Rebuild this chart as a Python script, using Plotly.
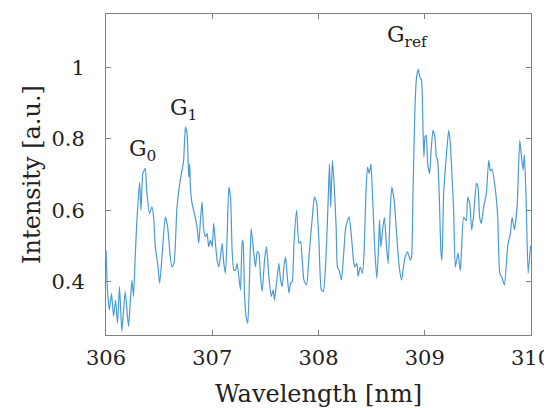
import plotly.graph_objects as go

# Spectrum
wavelength = [
    306.000, 306.014, 306.031, 306.052, 306.071, 306.090, 306.108, 306.127, 306.149, 306.165,
    306.181, 306.197, 306.212, 306.228, 306.244, 306.259, 306.275, 306.291, 306.316, 306.329,
    306.347, 306.369, 306.385, 306.410, 306.432, 306.448, 306.464, 306.486, 306.505, 306.527,
    306.558, 306.580, 306.605, 306.621, 306.640, 306.668, 306.694, 306.716, 306.731, 306.747,
    306.763, 306.779, 306.788, 306.794, 306.810, 306.832, 306.857, 306.873, 306.889, 306.904,
    306.920, 306.936, 306.951, 306.967, 306.983, 306.999, 307.014, 307.030, 307.046, 307.062,
    307.077, 307.093, 307.109, 307.124, 307.140, 307.156, 307.172, 307.187, 307.203, 307.219,
    307.234, 307.250, 307.266, 307.282, 307.291, 307.304, 307.320, 307.335, 307.366, 307.391,
    307.407, 307.423, 307.439, 307.454, 307.470, 307.492, 307.511, 307.533, 307.555, 307.574,
    307.586, 307.605, 307.627, 307.643, 307.659, 307.674, 307.690, 307.706, 307.722, 307.737,
    307.753, 307.769, 307.794, 307.816, 307.832, 307.847, 307.863, 307.888, 307.910, 307.926,
    307.942, 307.962, 307.983, 308.005, 308.027, 308.046, 308.068, 308.090, 308.103, 308.115,
    308.131, 308.147, 308.166, 308.178, 308.194, 308.216, 308.235, 308.257, 308.288, 308.310,
    308.329, 308.342, 308.361, 308.373, 308.392, 308.414, 308.430, 308.445, 308.461, 308.477,
    308.493, 308.508, 308.530, 308.549, 308.565, 308.574, 308.587, 308.603, 308.620, 308.640,
    308.656, 308.675, 308.690, 308.712, 308.737, 308.760, 308.782, 308.800, 308.816, 308.838,
    308.863, 308.876, 308.888, 308.907, 308.923, 308.939, 308.954, 308.970, 308.983, 308.992,
    309.002, 309.014, 309.027, 309.046, 309.058, 309.077, 309.096, 309.109, 309.121, 309.137,
    309.153, 309.162, 309.178, 309.200, 309.225, 309.241, 309.256, 309.272, 309.288, 309.313,
    309.335, 309.366, 309.391, 309.404, 309.423, 309.442, 309.461, 309.486, 309.501, 309.517,
    309.533, 309.555, 309.580, 309.602, 309.618, 309.633, 309.665, 309.687, 309.706, 309.728,
    309.750, 309.781, 309.806, 309.822, 309.844, 309.869, 309.894, 309.907, 309.926, 309.938,
    309.954, 309.973, 309.995,
]
intensity = [
    0.488, 0.376, 0.320, 0.367, 0.302, 0.348, 0.283, 0.386, 0.260, 0.320,
    0.372, 0.320, 0.274, 0.340, 0.404, 0.358, 0.470, 0.572, 0.679, 0.600,
    0.703, 0.717, 0.647, 0.591, 0.609, 0.581, 0.497, 0.451, 0.395, 0.469,
    0.581, 0.553, 0.469, 0.441, 0.450, 0.609, 0.675, 0.712, 0.740, 0.833,
    0.814, 0.693, 0.730, 0.665, 0.619, 0.591, 0.553, 0.507, 0.572, 0.623,
    0.544, 0.526, 0.535, 0.497, 0.516, 0.497, 0.563, 0.507, 0.460, 0.441,
    0.469, 0.507, 0.451, 0.423, 0.526, 0.665, 0.637, 0.488, 0.432, 0.432,
    0.451, 0.414, 0.376, 0.516, 0.507, 0.358, 0.300, 0.283, 0.549, 0.479,
    0.441, 0.484, 0.479, 0.414, 0.372, 0.460, 0.497, 0.414, 0.358, 0.376,
    0.348, 0.395, 0.451, 0.404, 0.386, 0.441, 0.469, 0.414, 0.367, 0.395,
    0.400, 0.507, 0.600, 0.507, 0.512, 0.460, 0.404, 0.390, 0.469, 0.525,
    0.581, 0.637, 0.619, 0.507, 0.376, 0.372, 0.451, 0.619, 0.730, 0.609,
    0.740, 0.675, 0.553, 0.441, 0.432, 0.404, 0.469, 0.553, 0.581, 0.526,
    0.460, 0.441, 0.451, 0.414, 0.441, 0.423, 0.488, 0.637, 0.721, 0.703,
    0.730, 0.647, 0.488, 0.409, 0.497, 0.572, 0.497, 0.544, 0.580, 0.500,
    0.450, 0.600, 0.665, 0.628, 0.525, 0.441, 0.404, 0.441, 0.469, 0.483,
    0.460, 0.469, 0.628, 0.880, 0.973, 0.995, 0.973, 0.964, 0.833, 0.749,
    0.805, 0.810, 0.731, 0.703, 0.758, 0.824, 0.805, 0.749, 0.740, 0.637,
    0.479, 0.460, 0.647, 0.740, 0.824, 0.786, 0.700, 0.600, 0.440, 0.480,
    0.430, 0.580, 0.570, 0.636, 0.620, 0.544, 0.590, 0.675, 0.665, 0.580,
    0.563, 0.610, 0.647, 0.740, 0.710, 0.715, 0.656, 0.580, 0.423, 0.410,
    0.390, 0.500, 0.535, 0.580, 0.545, 0.610, 0.796, 0.760, 0.712, 0.756,
    0.630, 0.423, 0.500,
]

# peak labels (text, x, y)
peak_labels = ["G<sub>0</sub>", "G<sub>1</sub>", "G<sub>ref</sub>"]
peak_x = [306.34, 306.73, 308.84]
peak_y = [0.722, 0.836, 1.04]

FONT = "DejaVu Serif"
TEXT = "#222222"
AXIS_GREY = "#808080"

fig = go.Figure()
fig.add_trace(go.Scatter(x=wavelength, y=intensity, mode="lines",
                         line=dict(color="#4a9ad4", width=1.2, shape="spline", smoothing=0.5),
                         showlegend=False))

for txt, px, py in zip(peak_labels, peak_x, peak_y):
    fig.add_annotation(x=px, y=py, text=txt, showarrow=False, xanchor="center", yanchor="bottom",
                       font=dict(family=FONT, size=22, color=TEXT))

axis_common = dict(showgrid=False, zeroline=False, showline=True, linecolor=AXIS_GREY, linewidth=1,
                   mirror="ticks", ticks="inside", ticklen=5, tickcolor=AXIS_GREY, tickwidth=1,
                   tickfont=dict(family=FONT, size=21, color=TEXT), automargin=False)

fig.update_xaxes(range=[306, 310], tickvals=[306, 307, 308, 309, 310],
                 title=dict(text="Wavelength [nm]", font=dict(family=FONT, size=24, color=TEXT), standoff=15),
                 ticklabelstandoff=4, **axis_common)
fig.update_yaxes(range=[0.25, 1.15], tickvals=[0.4, 0.6, 0.8, 1.0], ticktext=["0.4", "0.6", "0.8", "1"],
                 title=dict(text="Intensity [a.u.]", font=dict(family=FONT, size=24, color=TEXT), standoff=3),
                 ticklabelstandoff=16, **axis_common)

# page body has an 8px margin, so the figure is a bit smaller than the window
fig.update_layout(width=544, height=400, margin=dict(l=98, r=21, t=6, b=73),
                  plot_bgcolor="white", paper_bgcolor="white")

fig.write_html("out.html")
